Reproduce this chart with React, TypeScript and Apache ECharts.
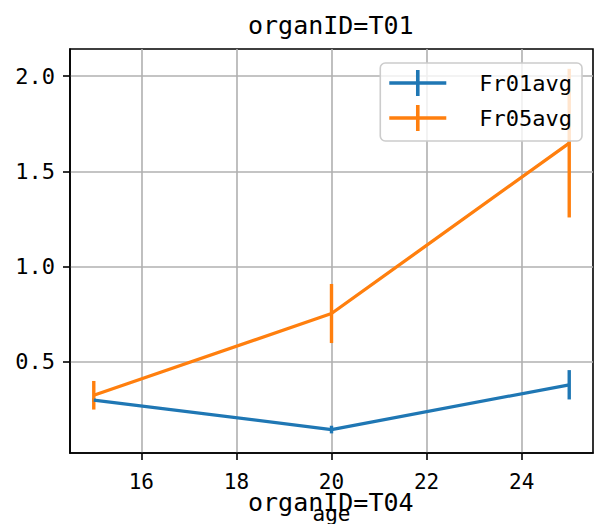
import React, { useEffect, useRef } from "react";
import * as echarts from "echarts";

const ages = [15, 20, 25];
const fr01Avg = [0.3, 0.145, 0.38];
const fr01Err = [0.01, 0.02, 0.077];
const fr05Avg = [0.325, 0.754, 1.648];
const fr05Err = [0.075, 0.155, 0.39];
const xTickValues = [16, 18, 20, 22, 24];
const yTickValues = [0.5, 1.0, 1.5, 2.0];
const seriesNames = ["Fr01avg", "Fr05avg"];
const titles = ["organID=T01", "organID=T04"];
const xName = "age";

const BLUE = "#1f77b4";
const ORANGE = "#ff7f0e";
const FONT = "DejaVu Sans Mono";

const legendIcon =
  "path://M0,11.2L57,11.2L57,14.8L0,14.8Z M26.7,0L30.3,0L30.3,26L26.7,26Z";

function errSeries(name: string, avg: number[], err: number[], color: string) {
  return {
    name,
    type: "custom",
    data: ages.map((x, i) => [x, avg[i] - err[i], avg[i] + err[i]]),
    encode: { x: 0, y: [1, 2] },
    renderItem: (_params: any, api: any) => {
      const p1 = api.coord([api.value(0), api.value(1)]);
      const p2 = api.coord([api.value(0), api.value(2)]);
      return {
        type: "line",
        shape: { x1: p1[0], y1: p1[1], x2: p2[0], y2: p2[1] },
        style: { stroke: color, lineWidth: 3.4 },
      };
    },
    z: 3,
  };
}

function lineSeries(name: string, avg: number[], color: string) {
  return {
    name,
    type: "line",
    data: ages.map((x, i) => [x, avg[i]]),
    symbol: "none",
    lineStyle: { color, width: 3.3 },
    itemStyle: { color },
    z: 3,
  };
}

export default function App() {
  const ref = useRef<HTMLDivElement>(null);
  useEffect(() => {
    document.body.style.margin = "0";
    const chart = echarts.init(ref.current!, null, { renderer: "svg" });
    const axisText = { color: "#000", fontFamily: FONT, fontSize: 21 };
    chart.setOption({
      animation: false,
      backgroundColor: "#fff",
      title: [
        {
          text: titles[0],
          left: 248,
          top: 12.5,
          padding: 0,
          textStyle: { color: "#000", fontFamily: FONT, fontSize: 25, fontWeight: "normal" },
        },
        {
          text: titles[1],
          left: 248,
          top: 490,
          padding: 0,
          textStyle: { color: "#000", fontFamily: FONT, fontSize: 25, fontWeight: "normal" },
        },
      ],
      grid: {
        left: 70,
        top: 49,
        right: 2,
        bottom: 71,
        containLabel: false,
        outerBoundsMode: "none",
        show: true,
        borderColor: "#000",
        borderWidth: 1.6,
        backgroundColor: "transparent",
      },
      legend: {
        orient: "vertical",
        right: 13,
        top: 63,
        data: seriesNames,
        icon: legendIcon,
        itemWidth: 57,
        itemHeight: 26,
        itemGap: 9,
        padding: [7, 10, 10, 9],
        backgroundColor: "rgba(255,255,255,0.8)",
        borderColor: "#cccccc",
        borderWidth: 1.6,
        borderRadius: 5,
        selectedMode: false,
        textStyle: {
          color: "#000",
          fontFamily: FONT,
          fontSize: 22,
          padding: [0, 0, 0, 28],
        },
        z: 10,
      },
      xAxis: {
        type: "value",
        min: 14.5,
        max: 25.5,
        name: xName,
        nameLocation: "middle",
        nameGap: 50,
        nameTextStyle: axisText,
        axisLine: { show: true, lineStyle: { color: "#000", width: 1.6 } },
        axisTick: {
          show: true,
          length: 7,
          lineStyle: { color: "#000", width: 1.6 },
          customValues: xTickValues,
        },
        axisLabel: {
          ...axisText,
          margin: 18,
          customValues: xTickValues,
          formatter: (v: number) => String(v),
        },
        splitLine: { show: true, lineStyle: { color: "#b0b0b0", width: 1.6 } },
      },
      yAxis: {
        type: "value",
        min: 0.022,
        max: 2.142,
        axisLine: { show: true, lineStyle: { color: "#000", width: 1.6 } },
        axisTick: {
          show: true,
          length: 7,
          lineStyle: { color: "#000", width: 1.6 },
          customValues: yTickValues,
        },
        axisLabel: {
          ...axisText,
          fontSize: 22,
          margin: 15,
          customValues: yTickValues,
          formatter: (v: number) => v.toFixed(1),
        },
        splitLine: { show: true, lineStyle: { color: "#b0b0b0", width: 1.6 } },
      },
      series: [
        lineSeries(seriesNames[0], fr01Avg, BLUE),
        errSeries(seriesNames[0], fr01Avg, fr01Err, BLUE),
        lineSeries(seriesNames[1], fr05Avg, ORANGE),
        errSeries(seriesNames[1], fr05Avg, fr05Err, ORANGE),
      ],
    });
    return () => chart.dispose();
  }, []);
  return <div ref={ref} style={{ width: 595, height: 524 }} />;
}
